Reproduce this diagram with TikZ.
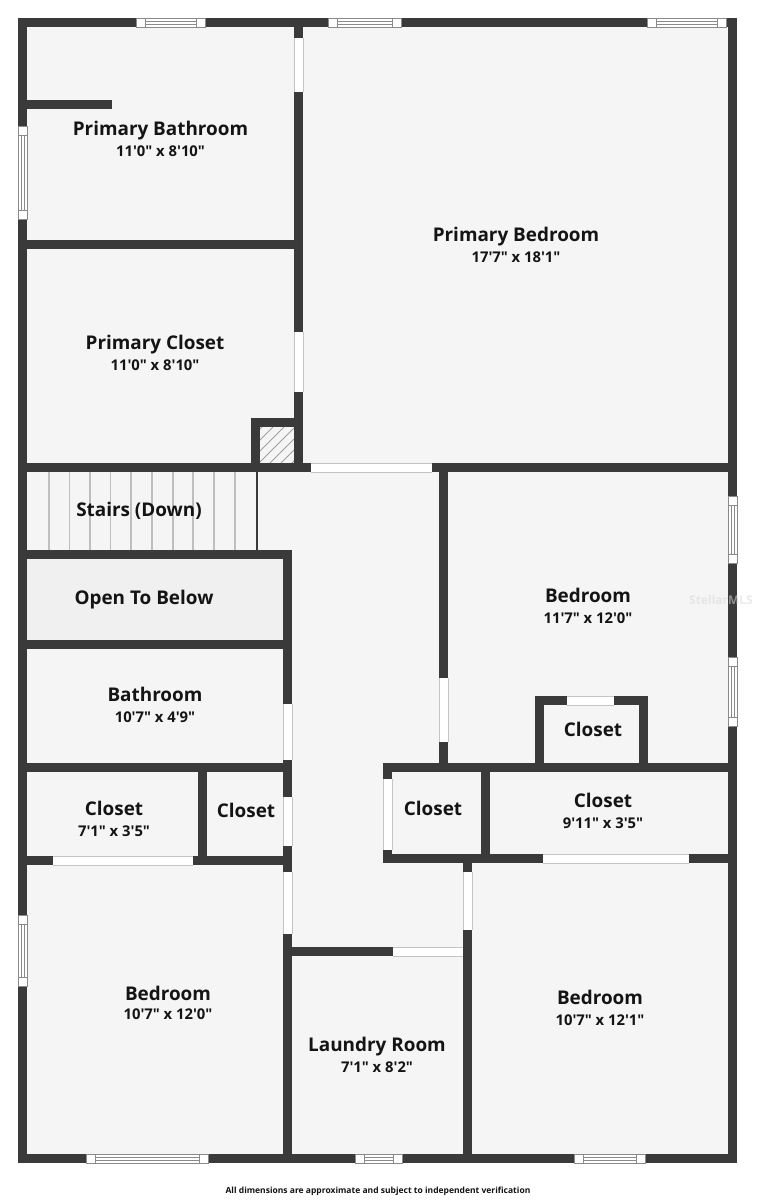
\documentclass[tikz,border=0pt]{standalone}
\usepackage{fontspec}
\setmainfont{Open Sans}[Ligatures=TeXOff]
\definecolor{wallc}{HTML}{3A3A3A}
\definecolor{roomc}{HTML}{F5F5F5}
\definecolor{openc}{HTML}{F0F0F0}
\definecolor{edgec}{HTML}{C4C4C4}
\definecolor{winc}{HTML}{8A8A8A}
\definecolor{treadc}{HTML}{BEBEBE}
\definecolor{markc}{HTML}{D8D8D8}
\newcommand{\wallbox}[4]{\fill[wallc] (#1,#2) rectangle (#3,#4);}
\newcommand{\hdoor}[3]{\fill[white] (#1,#3) rectangle (#2,#3+9);\draw[doorline] (#1,#3) -- (#2,#3) (#1,#3+9) -- (#2,#3+9);}
\newcommand{\vdoor}[3]{\fill[white] (#3,#1) rectangle (#3+9,#2);\draw[doorline] (#3,#1) -- (#3,#2) (#3+9,#1) -- (#3+9,#2);}
\newcommand{\hwin}[3]{\fill[white] (#1,#3) rectangle (#2,#3+9);
  \draw[winline] (#1,#3) rectangle (#2,#3+9) (#1+9,#3) -- (#1+9,#3+9) (#2-9,#3) -- (#2-9,#3+9) (#1+9,#3+3.5) -- (#2-9,#3+3.5) (#1+9,#3+6) -- (#2-9,#3+6);}
\newcommand{\vwin}[3]{\fill[white] (#3,#1) rectangle (#3+9,#2);
  \draw[winline] (#3,#1) rectangle (#3+9,#2) (#3,#1+9) -- (#3+9,#1+9) (#3,#2-9) -- (#3+9,#2-9) (#3+3.5,#1+9) -- (#3+3.5,#2-9) (#3+6,#1+9) -- (#3+6,#2-9);}
\tikzset{
  doorline/.style={edgec,line width=0.7pt},
  winline/.style={winc,line width=0.6pt},
  treadline/.style={treadc,line width=1.2pt},
  lbl/.style={inner sep=0pt,text=black!92,font=\fontsize{18.9}{20}\selectfont\bfseries,text height=13.5pt,text depth=4pt,yshift=-2.5pt},
  dim/.style={inner sep=0pt,text=black!92,font=\fontsize{14.8}{16}\selectfont\bfseries,text height=11pt,text depth=3pt,yshift=-2pt},
}
\begin{document}
\begin{tikzpicture}[x=1pt,y=-1pt]
\useasboundingbox (0,0) rectangle (756,1200);
\fill[white] (0,0) rectangle (756,1200);
% floor
\fill[roomc] (18,18) rectangle (737,1163);
\fill[openc] (27,559) rectangle (283,640);
% stair treads
\foreach \x in {49,69.5,90,110.5,131,152,173,193,214,235} \draw[treadline] (\x,472) -- (\x,551);
\draw[wallc,line width=1.6pt] (257,472) -- (257,551);
% hatch
\begin{scope}
\clip (260,427) rectangle (294,464);
\foreach \x in {214,225,...,291} \draw[gray!75,line width=0.8pt] (\x,464) -- (\x+37,427);
\end{scope}
% outer walls
\wallbox{18}{18}{737}{27}
\wallbox{18}{18}{27}{1163}
\wallbox{728}{18}{737}{1163}
\wallbox{18}{1154}{737}{1163}
% upper left
\wallbox{27}{100}{112}{109}
\wallbox{18}{240}{303}{249}
\wallbox{294}{18}{303}{472}
\wallbox{18}{463}{737}{472}
\wallbox{251}{418}{303}{427}
\wallbox{251}{418}{260}{472}
% left block
\wallbox{18}{550}{292}{559}
\wallbox{283}{550}{292}{1163}
\wallbox{18}{640}{292}{649}
\wallbox{18}{763}{292}{772}
\wallbox{198}{763}{207}{865}
\wallbox{18}{856}{292}{865}
% laundry
\wallbox{283}{947}{472}{956}
\wallbox{463}{854}{472}{1163}
% right block
\wallbox{439}{463}{448}{772}
\wallbox{383}{763}{737}{772}
\wallbox{383}{763}{392}{863}
\wallbox{383}{854}{737}{863}
\wallbox{481}{763}{490}{863}
\wallbox{535}{696}{648}{705}
\wallbox{535}{696}{544}{772}
\wallbox{639}{696}{648}{772}
% doors
\vdoor{38}{92}{294}
\vdoor{332}{392}{294}
\hdoor{311}{432}{463}
\vdoor{704}{760}{283}
\vdoor{797}{846}{283}
\vdoor{872}{934}{283}
\hdoor{53}{193}{856}
\vdoor{678}{742}{439}
\vdoor{779}{850}{383}
\hdoor{567}{614}{696}
\hdoor{543}{689}{854}
\vdoor{872}{930}{463}
\hdoor{393}{463}{947}
% windows
\hwin{136}{205}{18}
\hwin{328}{401}{18}
\hwin{647}{726}{18}
\vwin{126}{219}{18}
\vwin{915}{986}{18}
\vwin{496}{563}{728}
\vwin{657}{726}{728}
\hwin{86}{208}{1154}
\hwin{355}{402}{1154}
\hwin{574}{645}{1154}
% labels
\node[lbl] (pbath) at (160.5,128) {Primary Bathroom};
\node[dim] (pbathd) at (160.5,150) {11'0" x 8'10"};
\node[lbl] (pbed) at (516,234) {Primary Bedroom};
\node[dim] (pbedd) at (516,256) {17'7" x 18'1"};
\node[lbl] (pclo) at (155,342) {Primary Closet};
\node[dim] (pclod) at (155,364) {11'0" x 8'10"};
\node[lbl] (stairs) at (139,509) {Stairs (Down)};
\node[lbl] (open) at (144,597) {Open To Below};
\node[lbl] (bed1) at (588,595) {Bedroom};
\node[dim] (bed1d) at (588,617) {11'7" x 12'0"};
\node[lbl] (clo1) at (593,729) {Closet};
\node[lbl] (bath) at (155,694) {Bathroom};
\node[dim] (bathd) at (155,716) {10'7" x 4'9"};
\node[lbl] (clo2) at (114,808) {Closet};
\node[dim] (clo2d) at (114,830) {7'1" x 3'5"};
\node[lbl] (clo3) at (246,810) {Closet};
\node[lbl] (clo4) at (433,808) {Closet};
\node[lbl] (clo5) at (603,800) {Closet};
\node[dim] (clo5d) at (603,822) {9'11" x 3'5"};
\node[lbl] (bed2) at (168,993) {Bedroom};
\node[dim] (bed2d) at (168,1013) {10'7" x 12'0"};
\node[lbl] (bed3) at (600,997) {Bedroom};
\node[dim] (bed3d) at (600,1019) {10'7" x 12'1"};
\node[lbl] (laun) at (377,1044) {Laundry Room};
\node[dim] (laund) at (377,1066) {7'1" x 8'2"};
\node[inner sep=0pt,font=\fontsize{8.5}{10}\selectfont\bfseries,text=black!92] (foot) at (378,1191) {All dimensions are approximate and subject to independent verification};
\node[inner sep=0pt,font=\fontsize{12}{14}\selectfont\bfseries,text=markc,text opacity=0.55] (mark) at (721,600) {StellarMLS};
\end{tikzpicture}
\end{document}
